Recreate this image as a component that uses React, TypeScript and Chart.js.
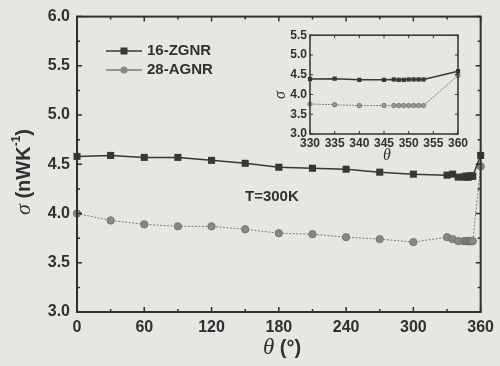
import React, { useEffect, useRef } from "react";
import { Chart, registerables } from "chart.js";

Chart.register(...registerables);

// ---- data ----
const theta = [0, 30, 60, 90, 120, 150, 180, 210, 240, 270, 300, 330, 335, 340, 345, 347, 348, 349, 350, 351, 352, 353, 360];
const zgnr = [4.58, 4.59, 4.57, 4.57, 4.54, 4.51, 4.47, 4.46, 4.45, 4.42, 4.40, 4.39, 4.40, 4.37, 4.37, 4.38, 4.37, 4.37, 4.38, 4.38, 4.38, 4.38, 4.59];
const agnr = [4.00, 3.93, 3.89, 3.87, 3.87, 3.84, 3.80, 3.79, 3.76, 3.74, 3.71, 3.76, 3.74, 3.72, 3.72, 3.72, 3.72, 3.72, 3.72, 3.72, 3.72, 3.72, 4.48];
const seriesNames = ["16-ZGNR", "28-AGNR"];
const annotation = "T=300K";

const mainXMajor = [0, 60, 120, 180, 240, 300, 360];
const mainXMinor = [30, 90, 150, 210, 270, 330];
const mainYMajor = [3.0, 3.5, 4.0, 4.5, 5.0, 5.5, 6.0];
const mainYMinor = [3.25, 3.75, 4.25, 4.75, 5.25, 5.75];

const insetMin = 330;
const insetXMajor = [330, 335, 340, 345, 350, 355, 360];
const insetYMajor = [3.0, 3.5, 4.0, 4.5, 5.0, 5.5];

const BG = "#e6e6e3";
const INK = "#303030";
const SQ = "#373737";
const CI = "#878787";
const CI_EDGE = "#6c6c6c";

const insetTheta = theta.filter((t) => t >= insetMin);
const insetZ = zgnr.filter((_, i) => theta[i] >= insetMin);
const insetA = agnr.filter((_, i) => theta[i] >= insetMin);

type TickCfg = {
  xMajor: number[];
  xMinor: number[];
  yMajor: number[];
  yMinor: number[];
  majorLen: number;
  minorLen: number;
  lw: number;
};

function framePlugin(id: string, cfg: TickCfg) {
  return {
    id,
    afterDraw(chart: any) {
      const { ctx, chartArea } = chart;
      const { left, right, top, bottom } = chartArea;
      const xs = chart.scales.x;
      const ys = chart.scales.y;
      ctx.save();
      ctx.strokeStyle = INK;
      ctx.lineWidth = cfg.lw;
      ctx.strokeRect(left, top, right - left, bottom - top);
      const tick = (vals: number[], len: number, isX: boolean) => {
        vals.forEach((v) => {
          ctx.beginPath();
          if (isX) {
            const px = xs.getPixelForValue(v);
            ctx.moveTo(px, bottom);
            ctx.lineTo(px, bottom - len);
            ctx.moveTo(px, top);
            ctx.lineTo(px, top + len);
          } else {
            const py = ys.getPixelForValue(v);
            ctx.moveTo(left, py);
            ctx.lineTo(left + len, py);
            ctx.moveTo(right, py);
            ctx.lineTo(right - len, py);
          }
          ctx.stroke();
        });
      };
      ctx.lineWidth = Math.max(1, cfg.lw - 0.5);
      tick(cfg.xMajor, cfg.majorLen, true);
      tick(cfg.xMinor, cfg.minorLen, true);
      tick(cfg.yMajor, cfg.majorLen, false);
      tick(cfg.yMinor, cfg.minorLen, false);
      ctx.restore();
    },
  };
}

type Piece = { t: string; font: string; dy?: number };

function drawPieces(ctx: CanvasRenderingContext2D, pieces: Piece[], cx: number, cy: number, rot: number) {
  ctx.save();
  ctx.translate(cx, cy);
  ctx.rotate(rot);
  ctx.textBaseline = "middle";
  ctx.textAlign = "left";
  ctx.fillStyle = INK;
  let total = 0;
  pieces.forEach((p) => {
    ctx.font = p.font;
    total += ctx.measureText(p.t).width;
  });
  let x = -total / 2;
  pieces.forEach((p) => {
    ctx.font = p.font;
    ctx.fillText(p.t, x, p.dy || 0);
    x += ctx.measureText(p.t).width;
  });
  ctx.restore();
}

const mainDecor = {
  id: "mainDecor",
  afterDraw(chart: any) {
    const ctx: CanvasRenderingContext2D = chart.ctx;
    // y title
    drawPieces(
      ctx,
      [
        { t: "σ", font: "italic 22px 'Liberation Serif'" },
        { t: " (nWK", font: "bold 20px 'Liberation Sans'" },
        { t: "-1", font: "bold 12px 'Liberation Sans'", dy: -7 },
        { t: ")", font: "bold 20px 'Liberation Sans'" },
      ],
      24,
      172,
      -Math.PI / 2
    );
    // x title
    drawPieces(
      ctx,
      [
        { t: "θ", font: "italic 23px 'Liberation Serif'" },
        { t: " (°)", font: "bold 20px 'Liberation Sans'" },
      ],
      282,
      348,
      0
    );
    // annotation
    ctx.save();
    ctx.fillStyle = INK;
    ctx.font = "bold 15px 'Liberation Sans'";
    ctx.textBaseline = "middle";
    ctx.textAlign = "left";
    ctx.fillText(annotation, 245, 197);
    // legend
    const rows = [
      { y: 51, name: seriesNames[0], sq: true },
      { y: 70, name: seriesNames[1], sq: false },
    ];
    rows.forEach((r) => {
      ctx.beginPath();
      ctx.strokeStyle = r.sq ? SQ : "#777";
      ctx.lineWidth = 1.5;
      ctx.moveTo(106, r.y);
      ctx.lineTo(142, r.y);
      ctx.stroke();
      if (r.sq) {
        ctx.fillStyle = SQ;
        ctx.fillRect(120.5, r.y - 3.5, 7, 7);
      } else {
        ctx.beginPath();
        ctx.fillStyle = CI;
        ctx.arc(124, r.y, 3.6, 0, Math.PI * 2);
        ctx.fill();
      }
      ctx.fillStyle = INK;
      ctx.fillText(r.name, 147, r.y);
    });
    ctx.restore();
  },
};

const insetDecor = {
  id: "insetDecor",
  afterDraw(chart: any) {
    const ctx: CanvasRenderingContext2D = chart.ctx;
    drawPieces(ctx, [{ t: "σ", font: "italic 16px 'Liberation Serif'" }], 11, 70, -Math.PI / 2);
    drawPieces(ctx, [{ t: "θ", font: "italic 16px 'Liberation Serif'" }], 117, 131, 0);
  },
};

function tickFont(size: number) {
  return { family: "'Liberation Sans', Arial, sans-serif", size, weight: "bold" as const };
}

export default function App() {
  const mainRef = useRef<HTMLCanvasElement>(null);
  const insetRef = useRef<HTMLCanvasElement>(null);

  useEffect(() => {
    const main = new Chart(mainRef.current as HTMLCanvasElement, {
      type: "line",
      data: {
        datasets: [
          {
            label: seriesNames[0],
            data: theta.map((t, i) => ({ x: t, y: zgnr[i] })),
            borderColor: SQ,
            borderWidth: 1.5,
            pointStyle: "rect",
            pointRadius: 5,
            pointBackgroundColor: SQ,
            pointBorderColor: SQ,
            pointBorderWidth: 0,
            clip: false as any,
          },
          {
            label: seriesNames[1],
            data: theta.map((t, i) => ({ x: t, y: agnr[i] })),
            borderColor: "#7a7a7a",
            borderWidth: 1,
            borderDash: [2, 1.5],
            pointStyle: "circle",
            pointRadius: 3.7,
            pointBackgroundColor: CI,
            pointBorderColor: CI_EDGE,
            pointBorderWidth: 0.8,
            clip: false as any,
          },
        ],
      },
      options: {
        animation: false,
        responsive: false,
        layout: { padding: { top: 16, right: 17, left: 0, bottom: 0 } },
        plugins: { legend: { display: false }, tooltip: { enabled: false } },
        scales: {
          x: {
            type: "linear",
            min: 0,
            max: 360,
            grid: { display: false, drawTicks: false },
            border: { display: false },
            ticks: { stepSize: 60, color: INK, font: tickFont(16), padding: 6, maxRotation: 0 },
            afterFit: (s: any) => {
              s.height = 54;
            },
          },
          y: {
            type: "linear",
            min: 3,
            max: 6,
            grid: { display: false, drawTicks: false },
            border: { display: false },
            ticks: {
              stepSize: 0.5,
              color: INK,
              font: tickFont(16),
              padding: 7,
              callback: (v: any) => Number(v).toFixed(1),
            },
            afterFit: (s: any) => {
              s.width = 77;
            },
          },
        },
      },
      plugins: [
        framePlugin("mainFrame", {
          xMajor: mainXMajor,
          xMinor: mainXMinor,
          yMajor: mainYMajor,
          yMinor: mainYMinor,
          majorLen: 5,
          minorLen: 3,
          lw: 2,
        }),
        mainDecor,
      ],
    });

    const inset = new Chart(insetRef.current as HTMLCanvasElement, {
      type: "line",
      data: {
        datasets: [
          {
            label: seriesNames[0],
            data: insetTheta.map((t, i) => ({ x: t, y: insetZ[i] })),
            borderColor: SQ,
            borderWidth: 1.5,
            pointStyle: "rect",
            pointRadius: 3,
            pointBackgroundColor: SQ,
            pointBorderColor: SQ,
            pointBorderWidth: 0,
            clip: false as any,
          },
          {
            label: seriesNames[1],
            data: insetTheta.map((t, i) => ({ x: t, y: insetA[i] })),
            borderColor: "#808080",
            borderWidth: 1,
            borderDash: [2, 1],
            pointStyle: "circle",
            pointRadius: 2.2,
            pointBackgroundColor: "#9a9a9a",
            pointBorderColor: "#6a6a6a",
            pointBorderWidth: 0.8,
            clip: false as any,
          },
        ],
      },
      options: {
        animation: false,
        responsive: false,
        layout: { padding: { top: 10, right: 8, left: 0, bottom: 0 } },
        plugins: { legend: { display: false }, tooltip: { enabled: false } },
        scales: {
          x: {
            type: "linear",
            min: 330,
            max: 360,
            grid: { display: false, drawTicks: false },
            border: { display: false },
            ticks: { stepSize: 5, color: INK, font: tickFont(12), padding: 2, maxRotation: 0, autoSkip: false },
            afterFit: (s: any) => {
              s.height = 31;
            },
          },
          y: {
            type: "linear",
            min: 3,
            max: 5.5,
            grid: { display: false, drawTicks: false },
            border: { display: false },
            ticks: {
              stepSize: 0.5,
              color: INK,
              font: tickFont(12),
              padding: 3,
              callback: (v: any) => Number(v).toFixed(1),
            },
            afterFit: (s: any) => {
              s.width = 40;
            },
          },
        },
      },
      plugins: [
        framePlugin("insetFrame", {
          xMajor: insetXMajor,
          xMinor: [],
          yMajor: insetYMajor,
          yMinor: [],
          majorLen: 3,
          minorLen: 2,
          lw: 1.5,
        }),
        insetDecor,
      ],
    });

    return () => {
      main.destroy();
      inset.destroy();
    };
  }, []);

  return (
    <div style={{ position: "absolute", left: 0, top: 0, width: 500, height: 366, background: BG, overflow: "hidden" }}>
      <canvas ref={mainRef} width={500} height={366} style={{ position: "absolute", left: 0, top: 0 }} />
      <canvas ref={insetRef} width={200} height={140} style={{ position: "absolute", left: 270, top: 25 }} />
    </div>
  );
}
